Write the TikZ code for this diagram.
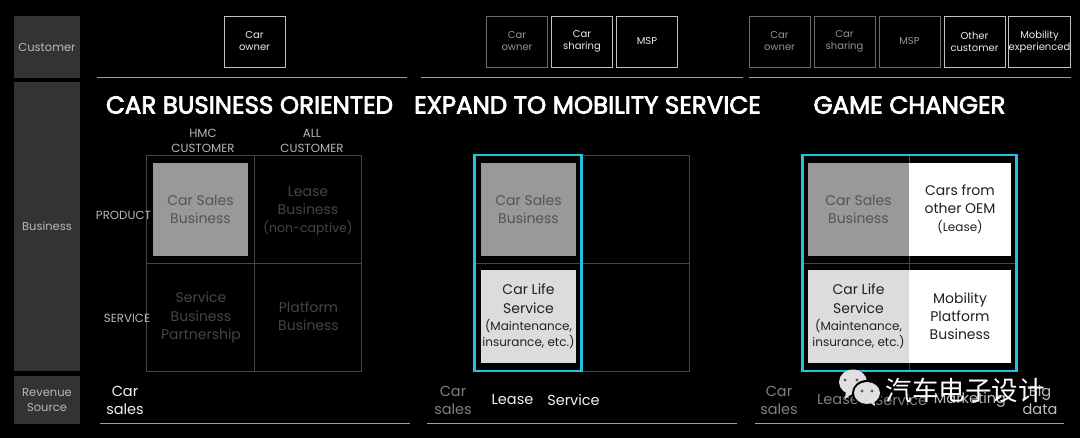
\documentclass[tikz,border=0pt]{standalone}
\usepackage{fontspec}
\usepackage{xcolor}
\usepackage{tikz}
\usetikzlibrary{positioning}
\setmainfont{Poppins}
\newfontfamily\headfont[FakeBold=3]{Poppins}
\newfontfamily\cjkfont{Noto Sans CJK SC}
\definecolor{barfill}{HTML}{333333}
\definecolor{cellgrey}{HTML}{999999}
\definecolor{celllight}{HTML}{DCDCDC}
\definecolor{framecyan}{HTML}{1FC4DC}
\newcommand{\fsize}[1]{\fontsize{#1}{1.24\dimexpr#1pt\relax}\selectfont}
\newcommand{\cellfont}{\fontsize{14}{18.2}\selectfont}
\newcommand{\carlife}{Car Life\\Service\\[-0.5pt]{\fsize{12}(Maintenance,}\\[-2.5pt]{\fsize{12}insurance, etc.)}}

\begin{document}
\begin{tikzpicture}[
      x=1pt, y=-1pt,
      on grid,
      node distance=65pt,
      every node/.style={align=center, inner sep=0pt, outer sep=0pt},
      sidebar/.style={fill=barfill, minimum width=66pt, text=white!72!black, font=\fsize{11.5}},
      custbox/.style={draw=white!75!black, line width=0.8pt, minimum width=61pt, minimum height=51pt,
        text=white!92!black, font=\fontsize{10}{12}\selectfont},
      custdim/.style={custbox, draw=white!42!black, text=white!58!black},
      rulebar/.style={draw=white!62!black, line width=1pt},
      headline/.style={text=white, font=\fsize{24.5}\headfont},
      axislabel/.style={text=white!72!black, font=\fsize{11.8}},
      cellbox/.style={draw=white!27!black, line width=0.7pt, minimum width=107.5pt, minimum height=108pt},
      celltext/.style={text=white!27!black, font=\cellfont},
      filled/.style={minimum height=93pt, minimum width=#1, font=\cellfont},
      filled/.default=95pt,
      salesbox/.style={filled=#1, fill=cellgrey, text=white!33!black},
      salesbox/.default=95pt,
      lifebox/.style={filled=#1, fill=celllight, text=white!13!black},
      lifebox/.default=95pt,
      newbox/.style={filled=102pt, fill=white, text=white!13!black},
      cyanframe/.style={draw=framecyan, line width=2.8pt},
      revenue/.style={text=white!95!black, font=\fsize{14.5}},
      revdim/.style={revenue, text=white!50!black},
    ]

    \fill[black] (0,0) rectangle (1080,438);
    \useasboundingbox (0,0) rectangle (1080,438);

    % row headers
    \node[sidebar, minimum height=62pt]  (customer) at (47,47)    {Customer};
    \node[sidebar, minimum height=289pt] (business) at (47,226.5) {Business};
    \node[sidebar, minimum height=48pt]  (revsource) at (47,400)  {Revenue\\Source};

    % left panel
    \node[custbox] (ownerA) at (254.5,41.5) {Car\\owner};
    \draw[rulebar] (97,78) -- (407,78);
    \node[headline] (titleA) at (249.5,105) {CAR BUSINESS ORIENTED};
    \node[axislabel] (hmc) at (203,141) {HMC\\CUSTOMER};
    \node[axislabel] (allcust) at (312,141) {ALL\\CUSTOMER};

    \node[cellbox] (cellA) at (200.5,209) {};
    \node[cellbox, right=107.5pt of cellA] (cellB) {};
    \node[cellbox, below=108pt of cellA] (cellC) {};
    \node[cellbox, right=107.5pt of cellC] (cellD) {};
    \node[celltext] (leasetext) at (308,211) {Lease\\Business\\{\fsize{12.5}(non-captive)}};
    \node[celltext] (partnertext) at (201,317.5) {Service\\Business\\Partnership};
    \node[celltext] (platformtext) at (308.5,316) {Platform\\Business};
    \node[salesbox] (salesA) at (200.5,209.5) {Car Sales\\Business};
    \node[axislabel] (product) at (123.5,215) {PRODUCT};
    \node[axislabel] (service) at (127,318) {SERVICE};
    \node[revenue] (salesrevA) at (125,400) {Car\\sales};
    \draw[rulebar] (100,424) -- (410,424);

    % middle panel
    \node[custdim] (ownerB) at (517,41.5) {Car\\owner};
    \node[custbox, right=of ownerB] (sharingB) {Car\\sharing};
    \node[custbox, right=of sharingB] (mspB) {MSP};
    \draw[rulebar] (421,78) -- (743,78);
    \node[headline] (titleB) at (587.5,105) {EXPAND TO MOBILITY SERVICE};

    \node[cellbox] (cellE) at (528,209) {};
    \node[cellbox, right=107.5pt of cellE] (cellF) {};
    \node[cellbox, below=108pt of cellE] (cellG) {};
    \node[cellbox, right=107.5pt of cellG] (cellH) {};
    \node[salesbox] (salesB) at (528.5,209.5) {Car Sales\\Business};
    \node[lifebox] (lifeB) at (528.5,316.5) {\carlife};
    \draw[cyanframe] (cellE.north west) rectangle (cellG.south east);
    \node[revdim] (salesrevB) at (453,400) {Car\\sales};
    \node[revenue] (leaseB) at (512.5,400) {Lease};
    \node[revenue] (serviceB) at (573.5,400) {Service};
    \draw[rulebar] (427,424) -- (737,424);

    % right panel
    \node[custdim] (ownerC) at (779.5,41.5) {Car\\owner};
    \node[custdim, right=of ownerC] (sharingC) {Car\\sharing};
    \node[custdim, right=of sharingC] (mspC) {MSP};
    \node[custbox, right=of mspC] (otherC) {Other\\customer};
    \node[custbox, right=of otherC] (mobilityC) {Mobility\\experienced};
    \draw[rulebar] (749,78) -- (1071,78);
    \node[headline] (titleC) at (909.5,105) {GAME CHANGER};

    \node[cellbox] (cellI) at (856,209) {};
    \node[cellbox, right=107pt of cellI] (cellJ) {};
    \node[cellbox, below=108pt of cellI] (cellK) {};
    \node[cellbox, right=107pt of cellK] (cellL) {};
    \node[salesbox=101pt] (salesC) at (858.5,209.5) {Car Sales\\Business};
    \node[newbox] (oemC) at (960,209.5) {Cars from\\other OEM\\{\fsize{12}(Lease)}};
    \node[lifebox=101pt] (lifeC) at (858.5,316.5) {\carlife};
    \node[newbox] (platformC) at (960,316.5) {Mobility\\Platform\\Business};
    \draw[cyanframe] (cellI.north west) rectangle (cellL.south east);
    \node[revdim] (salesrevC) at (779,400) {Car\\sales};
    \node[revdim] (leaseC) at (838,400) {Lease};
    \node[revdim] (serviceC) at (901,400) {Service};
    \node[revenue, text=white!75!black] (marketingC) at (970,400) {Marketing};
    \node[revenue, text=white!75!black] (bigdataC) at (1040,400) {Big\\data};
    \draw[rulebar] (755,424) -- (1064,424);

    % watermark
    \fill[white!88!black] (853,382) ellipse [x radius=14, y radius=12.5];
    \fill[white!88!black] (846,390) -- (845,399) -- (853,393) -- cycle;
    \fill[black] (867,393) ellipse [x radius=15, y radius=13];
    \fill[white!88!black] (867,393) ellipse [x radius=13, y radius=11];
    \fill[white!88!black] (869,402) -- (875,406) -- (874,399) -- cycle;
    \fill[white!35!black] (845,380) circle [radius=1.6] (857,380) circle [radius=1.6];
    \fill[white!35!black] (862,391) circle [radius=1.6] (872,391) circle [radius=1.6];
    \node[text=white, font=\fsize{26.5}\cjkfont] (brand) at (965,390) {汽车电子设计};

  \end{tikzpicture}
\end{document}
